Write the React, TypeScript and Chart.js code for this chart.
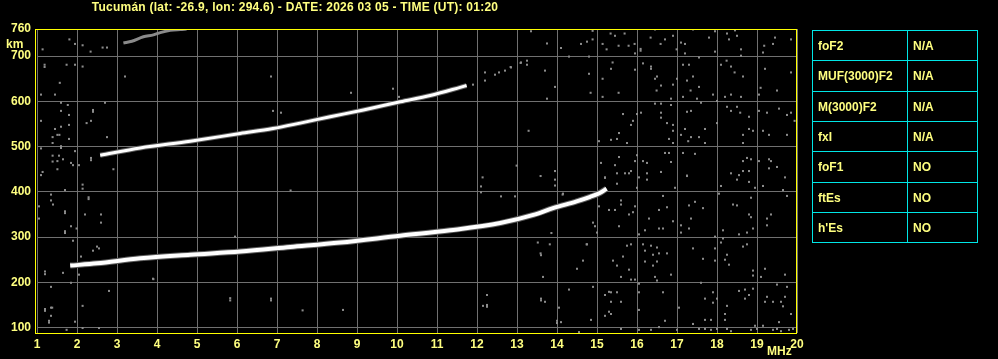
import React, { useEffect, useRef } from "react";
import { Chart, registerables } from "chart.js";

Chart.register(...registerables);

const TITLE = "Tucumán (lat: -26.9, lon: 294.6) - DATE: 2026 03 05 - TIME (UT): 01:20";

const FREQ_TICKS = [1, 2, 3, 4, 5, 6, 7, 8, 9, 10, 11, 12, 13, 14, 15, 16, 17, 18, 19, 20];
const HEIGHT_TICKS = [100, 200, 300, 400, 500, 600, 700, 760];
const F_MIN = 1;
const F_MAX = 20;
const H_MIN = 88;
const H_MAX = 760;

// F trace (first hop)
const F1_MHZ = [1.83, 2.5, 3.58, 4.83, 6.08, 7.33, 8.58, 10.08, 11.33, 12.58, 13.41, 13.9, 14.49, 14.83, 15.08, 15.24];
const F1_KM = [237, 242, 253, 261, 268, 278, 288, 303, 315, 331, 349, 364, 379, 389, 398, 407];

// second hop
const F2_MHZ = [2.58, 3.58, 4.83, 6.08, 6.9, 7.58, 8.33, 9.16, 10.08, 10.83, 11.58, 11.74];
const F2_KM = [481, 497, 512, 529, 540, 552, 566, 581, 599, 613, 631, 635];

// third hop (faint)
const F3_MHZ = [3.16, 3.37, 3.66, 3.91, 4.08, 4.33, 4.58, 4.74];
const F3_KM = [729, 733, 743, 747, 752, 757, 759, 760];

// scattered noise echoes [MHz, km]
const NOISE_LOW: [number, number][] = [
  [1.81, 737], [1.95, 727], [1.14, 715], [2.14, 724], [2.34, 710], [2.64, 719], [2.75, 719], [1.19, 681], [1.19, 676],
  [1.74, 681], [1.95, 681], [2.14, 677], [3.2, 655], [1.57, 641], [1.1, 615], [1.45, 615], [1.6, 597], [1.77, 592],
  [2.7, 597], [1.6, 579], [2.4, 581], [2.4, 577], [1.8, 570], [2.35, 557], [2.24, 552], [1.1, 557], [1.8, 548],
  [1.6, 544], [1.45, 539], [1.51, 526], [1.56, 526], [1.39, 521], [1.8, 517], [2.75, 521], [1.39, 508], [1.6, 501],
  [1.6, 497], [1.1, 496], [1.95, 490], [1.39, 480], [1.55, 480], [1.65, 472], [2.35, 475], [2.35, 470], [1.39, 467],
  [1.51, 468], [1.85, 464], [2.05, 459], [1.9, 459], [1.51, 450], [2.91, 450], [1.14, 444], [1.1, 437], [1.7, 404],
  [2.14, 416], [2.14, 407], [2.29, 388], [2.29, 384], [1.35, 394], [1.35, 381], [1.4, 372], [1.05, 368], [1.7, 357],
  [1.7, 353], [2.2, 350], [2.6, 350], [1.05, 341], [2.6, 332], [1.85, 324], [1.7, 313], [1.7, 309], [1.99, 319],
  [1.9, 292], [2.5, 279], [2.4, 270], [2.55, 275], [2.1, 257], [1.2, 224], [1.2, 218], [1.65, 221], [2.05, 217],
  [1.85, 199], [1.35, 190], [2.8, 181], [1.2, 141], [1.2, 137], [1.35, 144], [1.38, 144], [1.35, 126], [1.3, 115],
  [1.3, 111], [1.95, 113], [2.14, 148], [1.74, 95], [2.14, 99], [2.55, 99],
];

const NOISE_MID: [number, number][] = [
  [6.85, 655], [8.85, 619], [6.9, 579], [7.1, 575], [9.9, 628], [10.05, 610], [12.2, 664], [12.2, 646], [12.45, 659],
  [12.55, 664], [12.7, 668], [12.85, 675], [13.1, 686], [13.25, 690], [13.25, 681], [13.35, 755], [13.75, 728],
  [13.7, 668], [13.95, 632], [13.75, 606], [11.9, 637], [12.84, 676], [13.09, 685], [3.9, 208], [6.85, 164],
  [6.85, 160], [8.65, 139], [12.25, 172], [12.15, 148], [12.25, 150], [12.25, 146], [13.6, 164], [13.6, 160],
  [13.7, 157], [13.65, 212], [13.6, 260], [14.05, 144], [14, 115], [14, 110], [13.29, 535], [12.14, 432], [12.1, 412],
  [12.1, 399], [12.6, 390], [12.95, 390], [12.99, 458], [13.59, 435], [13.95, 446], [13.95, 427], [13.95, 414],
  [14.14, 394], [13.52, 288], [13.82, 284], [13.59, 264], [13.86, 309], [14.74, 284], [7.34, 403], [5.95, 301],
  [3.91, 207], [5.83, 165], [5.83, 160], [7.64, 138],
];

const NOISE_HIGH: [number, number][] = [
  [14.89, 756], [15.34, 750], [15.45, 745], [15.69, 750], [16.45, 759], [16.9, 745], [17.4, 759], [17.95, 755],
  [18.45, 757], [18.25, 750], [18.5, 745], [19.45, 741], [19.85, 737], [14.89, 737], [14.75, 732], [14.6, 727],
  [15.14, 727], [15.54, 723], [15.79, 723], [15.94, 727], [16.34, 741], [16.7, 737], [16.59, 727], [17.1, 730],
  [17.2, 727], [17.8, 741], [18.3, 737], [19.18, 723], [19.4, 727], [14.1, 718], [15.24, 715], [16.09, 716],
  [16.09, 712], [16.99, 715], [17.95, 710], [18.6, 715], [19.15, 708], [14.3, 699], [14.8, 699], [15.95, 706],
  [17.2, 706], [17.55, 697], [18.6, 701], [18.24, 690], [15.39, 686], [16.15, 684], [16.35, 677], [16.35, 672],
  [17.15, 681], [17.3, 681], [18.1, 681], [18.35, 677], [15.35, 672], [15.95, 670], [19.2, 672], [14.8, 661],
  [18.44, 664], [19.85, 664], [16.5, 655], [16.45, 650], [17.4, 655], [15.14, 650], [18.65, 655], [17, 650],
  [17.25, 646], [16.6, 635], [16.9, 637], [17.55, 632], [19.09, 630], [14.84, 619], [15.54, 619], [16.49, 624],
  [17.34, 624], [19.5, 624], [15.14, 610], [16.85, 606], [17.15, 610], [17.5, 606], [17.9, 615], [18.2, 610],
  [18.35, 615], [18.6, 610], [19.05, 615], [16.45, 595], [16.6, 595], [16.85, 592], [17.6, 597], [18, 601],
  [18.25, 588], [18.35, 579], [18.5, 588], [18.58, 575], [19.05, 579], [19.25, 575], [19.55, 584], [19.75, 570],
  [19.85, 575], [19.94, 557], [15.65, 572], [16, 572], [16.1, 575], [16.6, 575], [17.25, 577], [17.35, 579],
  [16.6, 564], [15.9, 557], [16.75, 552], [18, 552], [18.8, 566], [15.85, 548], [16.9, 548], [15.55, 530],
  [17.2, 539], [17.7, 539], [16.9, 535], [18.8, 539], [18.9, 535], [19.15, 535], [18.65, 526], [19.3, 526],
  [19.75, 526], [15.35, 515], [15.5, 517], [16.8, 517], [17.1, 526], [17.35, 521], [15.05, 512], [15.75, 508],
  [16.9, 508], [17.28, 512], [17.55, 521], [17.7, 508], [18.65, 508], [16, 481], [16.7, 486], [16.8, 486],
  [17.15, 486], [17.45, 484], [15.55, 477], [16.15, 468], [16.25, 464], [16.85, 466], [15.95, 468], [15.1, 464],
  [15.45, 459], [18.75, 475], [18.85, 472], [18.65, 468], [19.05, 468], [19.3, 472], [19.35, 468], [19.3, 452],
  [19.5, 455], [15.85, 446], [15.8, 441], [15.7, 441], [15.5, 441], [16.25, 441], [16.6, 444], [17.25, 435],
  [18.35, 441], [18.65, 446], [18.8, 446], [18.55, 437], [19.7, 432], [15.2, 432], [16.05, 432],
  [15.2, 431], [16.25, 427], [17.25, 436], [18.5, 427], [18.8, 422], [18.1, 413], [18.95, 409], [19.15, 413],
  [19.65, 404], [15.5, 418], [16, 409], [16.95, 409], [14.15, 396], [18.05, 396], [18.85, 387], [19.75, 391],
  [15.6, 381], [16.65, 391], [17.45, 378], [17.3, 370], [18.4, 372], [18.5, 370], [15.05, 368], [15.95, 368],
  [15.6, 372], [15.3, 360], [15.45, 360], [16.55, 360], [16.75, 366], [17.65, 364], [15.8, 350], [15.9, 355],
  [18.8, 350], [19.35, 350], [18.85, 344], [19.25, 341], [16.3, 341], [17.35, 341], [16.9, 335], [14.9, 332],
  [14.95, 324], [15.55, 324], [17.1, 326], [19.25, 326], [16.2, 315], [16.55, 319], [16.65, 319], [17.3, 319],
  [18.15, 315], [18.9, 319], [17.1, 310], [18.75, 310], [18.55, 306], [15, 310], [16.05, 306], [17.95, 301],
  [18.15, 297], [14.75, 284], [15.75, 281], [15.85, 284], [16.15, 284], [16.35, 281], [16.5, 277], [17.4, 275],
  [17.95, 275], [18.1, 288], [18.65, 279], [18.75, 284], [16.2, 270], [16.55, 264], [16.75, 264], [16.4, 261],
  [15.65, 257], [18.25, 261], [14.65, 248], [15.4, 248], [16.2, 246], [16.5, 246], [17.65, 252], [17.95, 248],
  [18.2, 250], [15.5, 237], [16.4, 237], [18.3, 239], [19.2, 230], [15.8, 228], [18.9, 226], [14.5, 230],
  [16.85, 217], [15.6, 212], [16.45, 212], [18.9, 215], [19.1, 212], [19.7, 217], [15.85, 206], [16.5, 204],
  [15.95, 206], [16.05, 197], [17.6, 199], [19.5, 195], [19.75, 190], [14.9, 190], [18.55, 181], [18.7, 184],
  [18.9, 186], [14.3, 184], [15.3, 179], [15.35, 178], [15.5, 178], [16.05, 178], [16.65, 178], [17.9, 178],
  [18.8, 172], [15.2, 172], [19.25, 168], [19.7, 168], [17.7, 164], [18, 164], [18.7, 164], [15.35, 157],
  [15.6, 157], [17.9, 155], [18.25, 148], [19.2, 157], [19.4, 157], [19.6, 157], [19.65, 147], [16.05, 139],
  [17.05, 144], [15.3, 135], [15.35, 130], [18.2, 130], [19.85, 130], [15.2, 126], [17.7, 117], [17.85, 117],
  [18.2, 117], [16.7, 115], [14.85, 117], [19.55, 112], [14.1, 112], [17.4, 108], [18.95, 104], [19.15, 104],
  [16.55, 101], [15.6, 97], [16.05, 95], [16.35, 95], [17, 95], [17.55, 97], [17.7, 97], [17.85, 95], [18, 97],
  [18.25, 97], [18.35, 92], [18.85, 95], [19, 97], [19.4, 95], [19.5, 97], [19.6, 92], [19.8, 95], [19.9, 97],
  [14.55, 90],
];

const PARAM_NAMES = ["foF2", "MUF(3000)F2", "M(3000)F2", "fxI", "foF1", "ftEs", "h'Es"];
const PARAM_VALUES = ["N/A", "N/A", "N/A", "N/A", "NO", "NO", "NO"];

const YELLOW = "#ffff00";
const LABEL = "#ffff80";
const GRID = "#707070";
const NOISE = "#8c8c8c";
const FRINGE = "#5c5c5c";
const CYAN = "#00e6e6";
const FONT = "'Liberation Sans', Arial, sans-serif";

export default function App() {
  const ref = useRef<HTMLCanvasElement | null>(null);

  useEffect(() => {
    if (!ref.current) return;
    const toPts = (f: number[], h: number[]) => f.map((x, i) => ({ x, y: h[i] }));
    const pairPts = (a: [number, number][]) => a.map(([x, y]) => ({ x, y }));

    const framePlugin = {
      id: "frame",
      afterDraw(chart: any) {
        const { ctx, chartArea: a } = chart;
        ctx.save();
        ctx.strokeStyle = YELLOW;
        ctx.lineWidth = 1;
        ctx.strokeRect(a.left - 1.5, a.top + 0.5, a.right - a.left + 1, a.bottom - a.top);
        ctx.fillStyle = LABEL;
        ctx.font = `bold 12px ${FONT}`;
        ctx.textAlign = "left";
        ctx.textBaseline = "middle";
        ctx.fillText("km", 6, 45);
        ctx.fillText("MHz", 767, 352);
        ctx.restore();
      },
    };

    const lineDs = (label: string, f: number[], h: number[], color: string, width: number, order: number) => ({
      label,
      data: toPts(f, h),
      showLine: true,
      borderColor: color,
      backgroundColor: color,
      borderWidth: width,
      pointRadius: 0,
      cubicInterpolationMode: "monotone" as const,
      order,
    });

    const noiseDs = (label: string, pts: [number, number][]) => ({
      label,
      data: pairPts(pts),
      showLine: false,
      pointStyle: "rect" as const,
      pointRadius: 1.45,
      pointBorderWidth: 0,
      backgroundColor: NOISE,
      borderColor: NOISE,
      order: 5,
    });

    const chart = new Chart(ref.current, {
      type: "scatter",
      data: {
        datasets: [
          lineDs("F", F1_MHZ, F1_KM, "#ffffff", 4, 1),
          lineDs("2F", F2_MHZ, F2_KM, "#ffffff", 3, 1),
          lineDs("F fringe", F1_MHZ, F1_KM, FRINGE, 6, 2),
          lineDs("2F fringe", F2_MHZ, F2_KM, FRINGE, 5, 2),
          lineDs("3F", F3_MHZ, F3_KM, "#8a8a8a", 3, 1),
          noiseDs("noise low", NOISE_LOW),
          noiseDs("noise mid", NOISE_MID),
          noiseDs("noise high", NOISE_HIGH),
        ],
      },
      options: {
        responsive: true,
        maintainAspectRatio: false,
        animation: false,
        events: [],
        layout: { padding: { left: 0, top: 29, right: 201, bottom: 0 } },
        plugins: { legend: { display: false }, tooltip: { enabled: false }, title: { display: false } },
        scales: {
          x: {
            type: "linear",
            min: F_MIN,
            max: F_MAX,
            afterBuildTicks: (s: any) => {
              s.ticks = FREQ_TICKS.map((v) => ({ value: v }));
            },
            afterFit: (s: any) => {
              s.height = 26;
            },
            grid: { color: GRID, lineWidth: 1, drawTicks: false },
            border: { display: false },
            ticks: {
              color: LABEL,
              padding: 4,
              maxRotation: 0,
              autoSkip: false,
              font: { family: FONT, size: 12, weight: "bold" },
              callback: (v: any) => String(v),
            },
          },
          y: {
            type: "linear",
            min: H_MIN,
            max: H_MAX,
            afterBuildTicks: (s: any) => {
              s.ticks = HEIGHT_TICKS.map((v) => ({ value: v }));
            },
            afterFit: (s: any) => {
              s.width = 37;
            },
            grid: { color: GRID, lineWidth: 1, drawTicks: false },
            border: { display: false },
            ticks: {
              color: LABEL,
              padding: 6,
              autoSkip: false,
              font: { family: FONT, size: 12, weight: "bold" },
              callback: (v: any) => String(v),
            },
          },
        },
      },
      plugins: [framePlugin],
    } as any);

    return () => chart.destroy();
  }, []);

  const rowTops = PARAM_NAMES.map((_, i) => Math.round(30 + i * 30.33));
  const rowBottom = (i: number) => (i + 1 < rowTops.length ? rowTops[i + 1] : 242);

  const textStyle: React.CSSProperties = {
    color: LABEL,
    font: `bold 12px ${FONT}`,
    display: "flex",
    alignItems: "center",
    paddingLeft: 5,
    boxSizing: "border-box",
    position: "absolute",
    border: `1px solid ${CYAN}`,
    whiteSpace: "nowrap",
  };

  return (
    <div style={{ position: "fixed", left: 0, top: 0, width: 998, height: 359, background: "#000", overflow: "hidden" }}>
      <div style={{ position: "absolute", left: 0, top: 0, width: 998, height: 359 }}>
        <canvas ref={ref} />
      </div>
      <div
        style={{
          position: "absolute",
          left: 0,
          top: 0,
          width: 590,
          textAlign: "center",
          color: LABEL,
          font: `bold 12px ${FONT}`,
          letterSpacing: "0.25px",
          lineHeight: "14px",
          whiteSpace: "nowrap",
        }}
      >
        {TITLE}
      </div>
      {PARAM_NAMES.map((name, i) => (
        <React.Fragment key={name}>
          <div style={{ ...textStyle, left: 812, top: rowTops[i], width: 96, height: rowBottom(i) - rowTops[i] + 1 }}>{name}</div>
          <div style={{ ...textStyle, left: 907, top: rowTops[i], width: 71, height: rowBottom(i) - rowTops[i] + 1 }}>
            {PARAM_VALUES[i]}
          </div>
        </React.Fragment>
      ))}
    </div>
  );
}
